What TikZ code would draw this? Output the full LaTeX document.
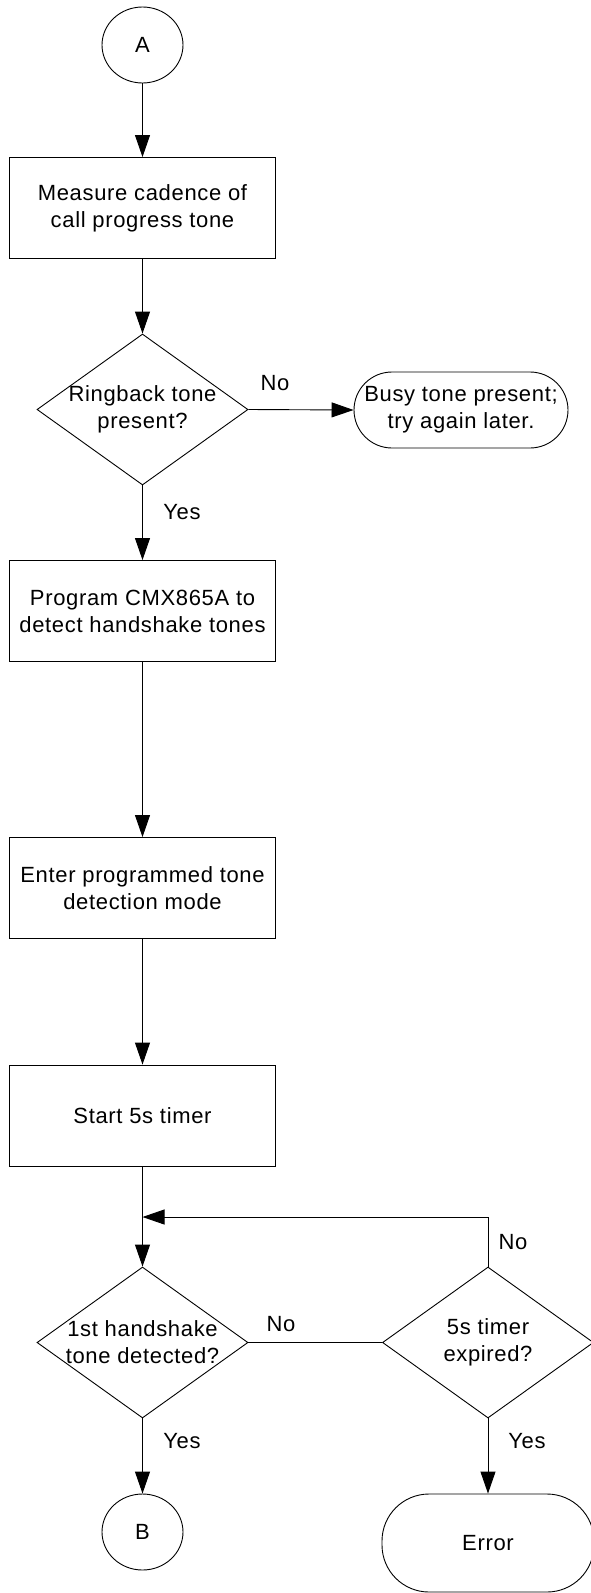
\documentclass[tikz,border=0pt]{standalone}
\usepackage{fontspec}
\setmainfont{Liberation Sans}[LetterSpace=3]
\usetikzlibrary{arrows.meta, shapes}

\begin{document}
\begin{tikzpicture}[x=1pt, y=-1pt, line width=.9pt, font=\fontsize{22}{27}\selectfont,
proc/.style = {draw, minimum width=266pt, minimum height=101pt, align=center, inner sep=0pt},
dec/.style = {draw, diamond, minimum width=211pt, minimum height=151pt, inner sep=0pt},
term/.style = {draw, rounded corners=38pt, minimum width=214pt, minimum height=76pt, align=center, inner sep=0pt},
conn/.style = {draw, ellipse, minimum width=81pt, minimum height=76pt, inner sep=0pt},
flow/.style = {-{Triangle[length=22pt, width=15pt]}}]
\pgfmathsetmacro{\colx}{142.5} %main column
\pgfmathsetmacro{\sidex}{488} %right column
\useasboundingbox (0,0) rectangle (590,1593);

\node[conn] (ca) at (\colx,45) {A};
\node[proc] (measure) at (\colx,208) {Measure cadence of\\call progress tone};
\node[dec, label={[align=center]center:Ringback tone\\present?}] (ringback) at (\colx,409.5) {};
\node[term] (busy) at (461,410) {Busy tone present;\\try again later.};
\node[proc] (program) at (\colx,611) {Program CMX865A to\\detect handshake tones};
\node[proc] (enter) at (\colx,888) {Enter programmed tone\\detection mode};
\node[proc] (start) at (\colx,1115.5) {Start 5s timer};
\coordinate (loop) at (\colx,1217);
\node[dec, label={[align=center]center:1st handshake\\tone detected?}] (first) at (\colx,1342.5) {};
\node[dec, label={[align=center]center:5s timer\\expired?}] (expired) at (\sidex,1342.5) {};
\node[conn] (cb) at (\colx,1532) {B};
\node[term, rounded corners=47pt, minimum width=212pt, minimum height=98pt] (error) at (\sidex,1543) {Error};

\draw[flow] (ca) -- (measure);
\draw[flow] (measure) -- (ringback);
\draw[flow] (ringback.east) -- (busy.west);
\draw[flow] (ringback) -- (program);
\draw[flow] (program) -- (enter);
\draw[flow] (enter) -- (start);
\draw[flow] (start) -- (first);
\draw (first.east) -- (expired.west);
\draw[flow] (expired.north) |- (loop);
\draw[flow] (first) -- (cb);
\draw[flow] (expired) -- (error);

%branch labels
\node (no1) at (275,383) {No};
\node (yes1) at (182,512) {Yes};
\node (no2) at (281,1324) {No};
\node (no3) at (513,1242) {No};
\node (yes2) at (182,1441) {Yes};
\node (yes3) at (527,1441) {Yes};

\end{tikzpicture}
\end{document}
